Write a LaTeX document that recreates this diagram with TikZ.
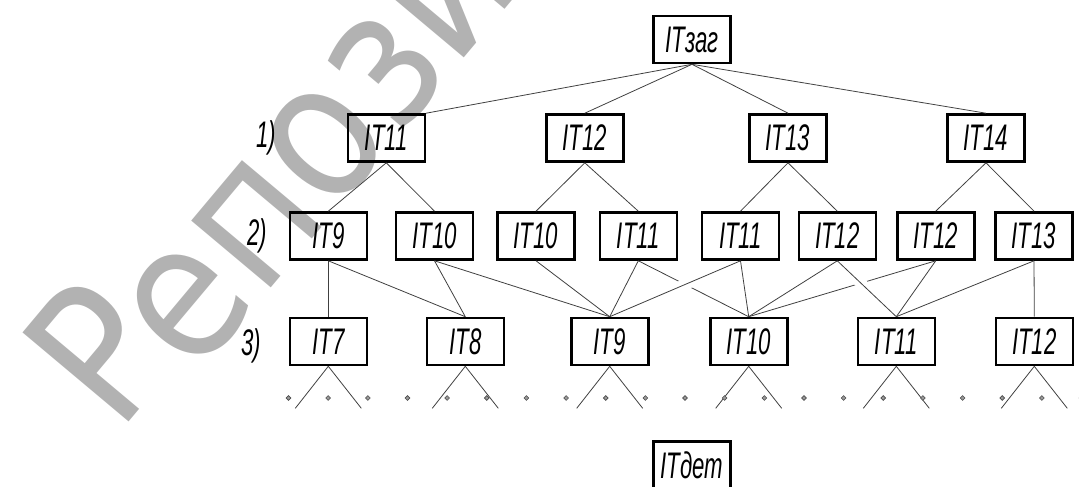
\documentclass[tikz,border=0pt]{standalone}
\usepackage{fontspec}
\setmainfont{Liberation Sans}
\newfontfamily\wmfont{DejaVu Sans}
\usetikzlibrary{calc,shapes.geometric}
\newcommand\gostlbl[1]{\scalebox{0.6}[1]{\itshape #1}}
\begin{document}
\begin{tikzpicture}[x=1pt,y=-1pt,
  box/.style={draw=black, line width=2.6pt, minimum width=77pt, minimum height=47pt, inner sep=0pt, font=\fontsize{37}{37}\selectfont},
  ln/.style={draw=black!75, line width=0.8pt},
  over/.style={ln, preaction={draw=white, line width=11pt, shorten <=25pt, shorten >=25pt}},
  dotm/.style={diamond, fill=black!40, draw=black!70, line width=0.6pt, inner sep=0pt, minimum size=5pt},
  lvl/.style={inner sep=0pt, font=\fontsize{37}{37}\selectfont},
  wm/.style={rotate=50, anchor=base west, inner sep=0pt, text=black!30, font=\wmfont\fontsize{190}{190}\selectfont}]
\useasboundingbox (0,0) rectangle (1079,487);
\clip (0,0) rectangle (1079,487);
% watermark
\node[wm] (wmark) at (130,456) {\scalebox{0.88}[1]{\kern10pt\raisebox{22pt}{Р}\kern-10pt епозиторий}};
% root
\node[box] (zag) at (692,39.5) {\gostlbl{ITзаг}};
% level 1
\node[box] (a11) at (386.3,138) {\gostlbl{IT11}};
\node[box] (a12) at (584.8,138) {\gostlbl{IT12}};
\node[box] (a13) at (788,138) {\gostlbl{IT13}};
\node[box] (a14) at (986,138) {\gostlbl{IT14}};
% level 2
\node[box] (b9)   at (328.3,236) {\gostlbl{IT9}};
\node[box] (b10a) at (434.5,236) {\gostlbl{IT10}};
\node[box] (b10b) at (536,236) {\gostlbl{IT10}};
\node[box] (b11a) at (638.3,236) {\gostlbl{IT11}};
\node[box] (b11b) at (740.5,236) {\gostlbl{IT11}};
\node[box] (b12a) at (837.3,236) {\gostlbl{IT12}};
\node[box] (b12b) at (935.7,236) {\gostlbl{IT12}};
\node[box] (b13)  at (1034,236) {\gostlbl{IT13}};
% level 3
\node[box] (c7)  at (328.3,341.5) {\gostlbl{IT7}};
\node[box] (c8)  at (465.3,341.5) {\gostlbl{IT8}};
\node[box] (c9)  at (609.7,341.5) {\gostlbl{IT9}};
\node[box] (c10) at (748.7,341.5) {\gostlbl{IT10}};
\node[box] (c11) at (896.3,341.5) {\gostlbl{IT11}};
\node[box] (c12) at (1034.3,341.5) {\gostlbl{IT12}};
% final
\node[box] (det) at (692,465) {\gostlbl{ITдет}};
% level labels
\node[lvl] (l1) at (266,138) {\gostlbl{1)}};
\node[lvl] (l2) at (257,236) {\gostlbl{2)}};
\node[lvl] (l3) at (251,346) {\gostlbl{3)}};
% root -> level 1
\draw[ln] (zag.south) -- (a11.north east);
\draw[ln] (zag.south) -- (a12.north);
\draw[ln] (zag.south) -- (a13.north);
\draw[ln] (zag.south) -- (a14.north);
% level 1 -> level 2
\draw[ln] (a11.south) -- (b9.north);
\draw[ln] (a11.south) -- (b10a.north);
\draw[ln] (a12.south) -- (b10b.north);
\draw[ln] (a12.south) -- (b11a.north);
\draw[ln] (a13.south) -- (b11b.north);
\draw[ln] (a13.south) -- (b12a.north);
\draw[ln] (a14.south) -- (b12b.north);
\draw[ln] (a14.south) -- (b13.north);
% level 2 -> level 3
\draw[ln] (b9.south) -- (c7.north);
\draw[ln] (b9.south) -- (c8.north);
\draw[ln] (b10a.south) -- (c8.north);
\draw[ln] (b10a.south) -- (c9.north);
\draw[ln] (b10b.south) -- (c9.north);
\draw[ln] (b11a.south) -- (c9.north);
\draw[ln] (b11a.south) -- (c10.north);
\draw[ln] (b11b.south) -- (c10.north);
\draw[ln] (b12a.south) -- (c10.north);
\draw[ln] (b12b.south) -- (c10.north);
\draw[ln] (b12b.south) -- (c11.north);
\draw[ln] (b13.south) -- (c11.north);
\draw[ln] (b13.south) -- (c12.north);
\draw[over] (b11b.south) -- (c9.north);
\draw[over] (b12a.south) -- (c11.north);
% fans below level 3
\foreach \n in {c7,c8,c9,c10,c11,c12}{
  \path (\n.south) ++(-33,42) coordinate (\n-l);
  \path (\n.south) ++(33,42) coordinate (\n-r);
  \draw[ln] (\n.south) -- (\n-l);
  \draw[ln] (\n.south) -- (\n-r);
}
% dots
\foreach \k in {0,...,20}{
  \node[dotm] (d\k) at ({288.5+39.65*\k},398) {};
}
\end{tikzpicture}
\end{document}
